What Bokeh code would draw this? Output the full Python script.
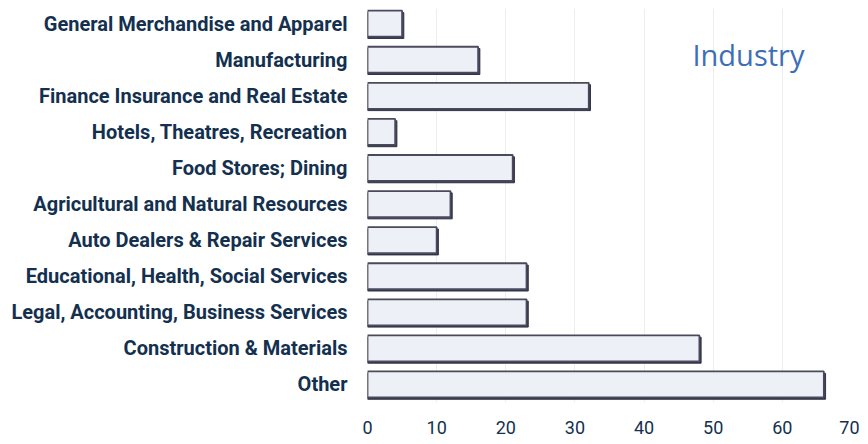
from bokeh.plotting import figure
from bokeh.models import ColumnDataSource, Label, FixedTicker
from bokeh.embed import file_html
from bokeh.resources import INLINE

categories = [
    "General Merchandise and Apparel",
    "Manufacturing",
    "Finance Insurance and Real Estate",
    "Hotels, Theatres, Recreation",
    "Food Stores; Dining",
    "Agricultural and Natural Resources",
    "Auto Dealers & Repair Services",
    "Educational, Health, Social Services",
    "Legal, Accounting, Business Services",
    "Construction & Materials",
    "Other",
]
values = [5, 16, 32, 4, 21, 12, 10, 23, 23, 48, 66]
x_ticks = [0, 10, 20, 30, 40, 50, 60, 70]
title_text = "Industry"

n = len(categories)
ypos = [n - 1 - i for i in range(n)]
src = ColumnDataSource(dict(
    y=ypos, v=values,
    ys=[y - 0.05 for y in ypos],
    vs=[v + 0.25 for v in values],
))

p = figure(width=859, height=436, output_backend="svg", toolbar_location=None,
           x_range=(0, 70), y_range=(-0.5, n - 0.58),
           min_border_left=367, min_border_right=8, min_border_top=8, min_border_bottom=0)
p.outline_line_color = None
p.background_fill_color = "white"

# shadow
p.hbar(y="ys", right="vs", left=0, height=0.72, source=src,
       fill_color="#34344a", line_color="#34344a", line_width=1)
p.hbar(y="y", right="v", left=0, height=0.72, source=src,
       fill_color="#eef0f8", line_color="#4a4a5c", line_width=1.8)

p.xgrid.ticker = FixedTicker(ticks=x_ticks)
p.xgrid.grid_line_color = "#ededf0"
p.xgrid.grid_line_width = 1
p.ygrid.grid_line_color = None

p.xaxis.ticker = FixedTicker(ticks=x_ticks)
p.xaxis.axis_line_color = None
p.xaxis.major_tick_line_color = None
p.xaxis.minor_tick_line_color = None
p.xaxis.major_label_text_font = "Roboto"
p.xaxis.major_label_text_font_size = "18px"
p.xaxis.major_label_text_color = "#14304f"
p.xaxis.major_label_standoff = 12

p.yaxis.ticker = FixedTicker(ticks=ypos)
p.yaxis.major_label_overrides = {y: c for y, c in zip(ypos, categories)}
p.yaxis.axis_line_color = None
p.yaxis.major_tick_line_color = None
p.yaxis.minor_tick_line_color = None
p.yaxis.major_label_text_font = "Roboto"
p.yaxis.major_label_text_font_style = "bold"
p.yaxis.major_label_text_font_size = "20px"
p.yaxis.major_label_text_color = "#14304f"
p.yaxis.major_label_standoff = 14

p.add_layout(Label(x=47.0, y=9.15, text=title_text, text_font="Open Sans",
                   text_font_size="29px", text_color="#3d6fb6",
                   text_baseline="middle", text_align="left"))

open("out.html", "w").write(file_html(p, INLINE))
